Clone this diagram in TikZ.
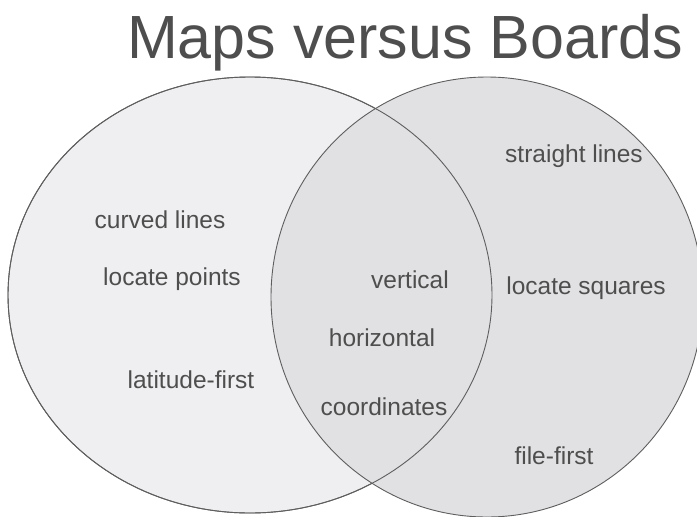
\documentclass[tikz,border=0pt]{standalone}
\usepackage{fontspec}
\setmainfont{Liberation Sans}
\usetikzlibrary{shapes.geometric}

\definecolor{mapfill}{HTML}{EFEFF1}
\definecolor{boardfill}{HTML}{E1E1E3}
\definecolor{rimgray}{HTML}{5E5E5E}
\definecolor{textgray}{HTML}{4E4E4E}

\begin{document}
\begin{tikzpicture}[
    x=1pt, y=-1pt,
    every node/.style={text=textgray},
    setbox/.style={ellipse, draw=rimgray, line width=0.9pt, inner sep=0pt},
    maps set/.style={setbox, fill=mapfill, minimum width=484pt, minimum height=436pt},
    boards set/.style={setbox, fill=boardfill, minimum width=432pt, minimum height=440pt},
    item/.style={font=\fontsize{24.5}{28}\selectfont, inner sep=0pt},
    heading/.style={font=\fontsize{61}{70}\selectfont, inner sep=0pt},
]
\useasboundingbox (0,0) rectangle (697,517);
\clip (0,0) rectangle (697,517);

% ---------- Title ----------
\node[heading] (title) at (405,43) {Maps versus Boards};

% ---------- Sets ----------
\node[maps set]   (maps)   at (250,295) {};
\node[boards set] (boards) at (487,297) {};
% left outline again over the right fill
\draw[draw=rimgray, line width=0.9pt] (maps.center) ellipse [x radius=242, y radius=218];

% ---------- Maps only ----------
\node[item] (curved)   at (160,220) {curved lines};
\node[item] (points)   at (172,279) {locate points};
\node[item] (latitude) at (191,380) {latitude-first};

% ---------- Both ----------
\node[item] (vertical)    at (410,280) {vertical};
\node[item] (horizontal)  at (382,338) {horizontal};
\node[item] (coordinates) at (384,407) {coordinates};

% ---------- Boards only ----------
\node[item] (straight) at (574,156) {straight lines};
\node[item] (squares)  at (586,288) {locate squares};
\node[item] (file)     at (554,456) {file-first};

\end{tikzpicture}
\end{document}
